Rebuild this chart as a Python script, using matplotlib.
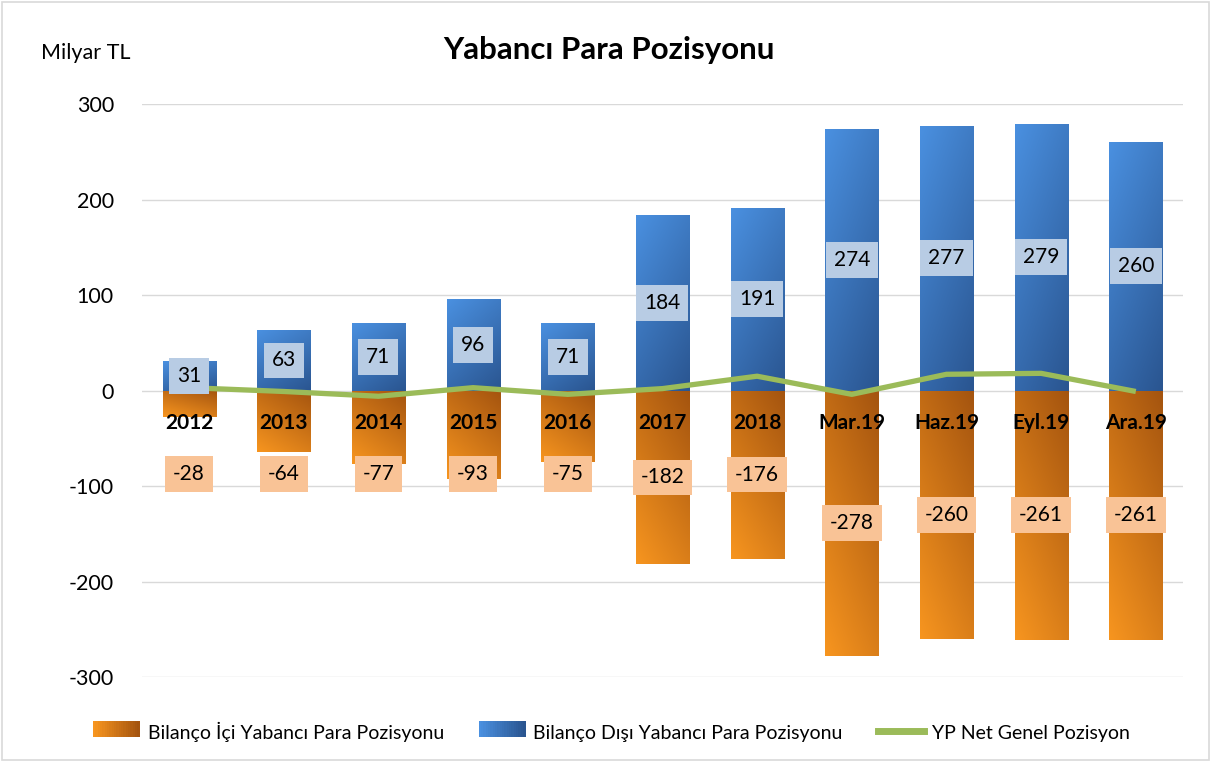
import numpy as np
import matplotlib
matplotlib.use('Agg')
import matplotlib.pyplot as plt
from matplotlib.patches import Rectangle
from matplotlib.legend_handler import HandlerBase
from matplotlib.lines import Line2D
from matplotlib.colors import to_rgb

plt.rcParams['font.family'] = ['Lato', 'DejaVu Sans']
plt.rcParams['axes.unicode_minus'] = False

# veriler (milyar TL)
categories = ['2012', '2013', '2014', '2015', '2016', '2017', '2018',
              'Mar.19', 'Haz.19', 'Eyl.19', 'Ara.19']
bilanco_ici = [-28, -64, -77, -93, -75, -182, -176, -278, -260, -261, -261]
bilanco_disi = [31, 63, 71, 96, 71, 184, 191, 274, 277, 279, 260]
net_pozisyon = [3, -1, -6, 3, -4, 2, 15, -4, 17, 18, -1]

ORANGE_LIGHT, ORANGE_DARK = '#F7951F', '#A4540F'
BLUE_LIGHT, BLUE_DARK = '#4A90E0', '#2A5590'
GREEN = '#9BBB59'


def gradient(light, dark, dark_right, dark_top):
    # capraz gecis, acik koseden koyu koseye
    n = 64
    u = np.linspace(0, 1, n)
    xx, yy = np.meshgrid(u, u)  # yy = 0 ust satir
    hx = xx if dark_right else 1 - xx
    hy = 1 - yy if dark_top else yy
    t = np.clip(0.35 * hx + 0.65 * hy, 0, 1)
    a, b = np.array(to_rgb(light)), np.array(to_rgb(dark))
    return a + (b - a) * t[..., None]


class GradHandler(HandlerBase):
    def __init__(self, c1, c2):
        super().__init__()
        self.c1, self.c2 = np.array(to_rgb(c1)), np.array(to_rgb(c2))

    def create_artists(self, legend, orig, x0, y0, w, h, fs, trans):
        arts = []
        n = 20
        for i in range(n):
            c = self.c1 + (self.c2 - self.c1) * i / (n - 1)
            r = Rectangle((x0 + w * i / n, y0), w / n + 0.3, h, fc=c, ec='none', transform=trans)
            arts.append(r)
        return arts


fig = plt.figure(figsize=(12.11, 7.62), dpi=100)
ax = fig.add_axes([0.117, 0.1115, 0.86, 0.752])

x = np.arange(len(categories))
w = 0.56

img_o = gradient(ORANGE_LIGHT, ORANGE_DARK, dark_right=True, dark_top=True)
img_b = gradient(BLUE_LIGHT, BLUE_DARK, dark_right=True, dark_top=False)
for xi, lo, hi in zip(x, bilanco_ici, bilanco_disi):
    ax.imshow(img_o, extent=[xi - w / 2, xi + w / 2, lo, 0], aspect='auto',
              origin='upper', zorder=2, interpolation='bilinear')
    ax.imshow(img_b, extent=[xi - w / 2, xi + w / 2, 0, hi], aspect='auto',
              origin='upper', zorder=2, interpolation='bilinear')

ax.plot(x, net_pozisyon, color=GREEN, lw=3.8, zorder=3, solid_capstyle='butt')

for xi, v in zip(x, bilanco_disi):
    ax.text(xi, v / 2, str(v), ha='center', va='center', fontsize=15, zorder=5,
            bbox=dict(boxstyle='square,pad=0.38', fc='#B8CCE4', ec='none'))
for xi, v in zip(x, bilanco_ici):
    ax.text(xi, min(v / 2, -87), str(v), ha='center', va='center', fontsize=15, zorder=5,
            bbox=dict(boxstyle='square,pad=0.38', fc='#F9C396', ec='none'))
for xi, c in zip(x, categories):
    ax.text(xi, -34, c, ha='center', va='center', fontsize=15, fontweight='bold', zorder=6)

ax.set_xlim(-0.5, len(categories) - 0.5)
ax.set_ylim(-300, 300)
ax.set_yticks(range(-300, 301, 100))
ax.set_xticks([])
ax.grid(axis='y', color='#D9D9D9', lw=1)
ax.set_axisbelow(True)
ax.tick_params(axis='y', length=0, labelsize=15.5, pad=20)
for s in ax.spines.values():
    s.set_visible(False)

fig.text(0.503, 0.935, 'Yabancı Para Pozisyonu', ha='center', va='center',
         fontsize=22.5, fontweight='bold')
fig.text(0.034, 0.931, 'Milyar TL', ha='left', va='center', fontsize=15.5)

h1 = Rectangle((0, 0), 1, 1)
h2 = Rectangle((0, 0), 1, 1)
h3 = Line2D([0], [0], color=GREEN, lw=5)
fig.legend([h1, h2, h3],
           ['Bilanço İçi Yabancı Para Pozisyonu', 'Bilanço Dışı Yabancı Para Pozisyonu',
            'YP Net Genel Pozisyon'],
           handler_map={h1: GradHandler(ORANGE_LIGHT, ORANGE_DARK),
                        h2: GradHandler(BLUE_LIGHT, BLUE_DARK)},
           loc='center', bbox_to_anchor=(0.505, 0.04), ncol=3, frameon=False,
           fontsize=14, handlelength=2.4, handleheight=0.9, columnspacing=1.8,
           handletextpad=0.4)

fig.add_artist(Rectangle((0.002, 0.002), 0.996, 0.996, transform=fig.transFigure,
                         fill=False, ec='#D9D9D9', lw=1.2))

fig.savefig('out.png', dpi=100)
